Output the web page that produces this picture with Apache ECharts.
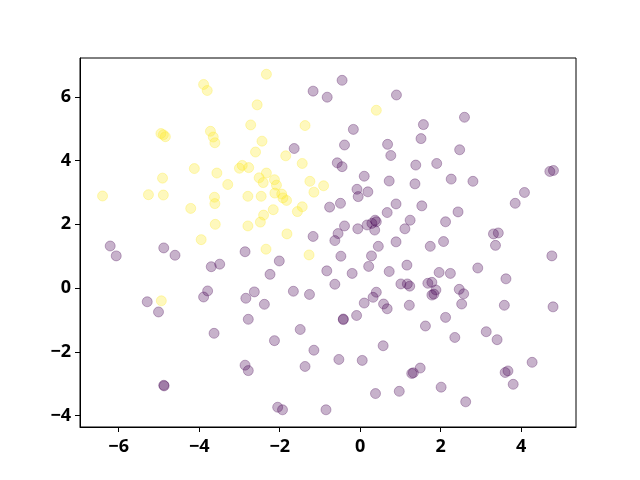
<!DOCTYPE html>
<html>
<head>
<meta charset="utf-8">
<script src="https://cdn.jsdelivr.net/npm/echarts@6/dist/echarts.min.js"></script>
<style>html,body{margin:0;padding:0;background:#fff}#c{width:640px;height:480px}</style>
</head>
<body>
<div id="c"></div>
<script>
// Class 1 (yellow) points [x, y]
const yellowPoints = [
  [-3.89,6.39],[-3.80,6.20],[-4.95,4.85],[-4.89,4.81],[-4.84,4.75],[-3.72,4.92],[-3.65,4.74],[-3.61,4.56],
  [-2.72,5.12],[-4.12,3.75],[-3.56,3.61],[-3.00,3.76],[-2.93,3.85],[-2.77,3.78],[-4.91,3.45],[-3.29,3.25],
  [-6.40,2.89],[-5.26,2.93],[-4.89,2.92],[-3.62,2.85],[-3.61,2.65],[-2.79,2.88],[-4.21,2.50],[-3.60,2.00],
  [-2.79,1.95],[-3.95,1.52],[-4.94,-0.40],[-2.33,6.71],[-2.56,5.75],[-1.37,5.10],[-2.44,4.61],[-2.60,4.27],
  [-1.85,4.15],[-1.44,3.91],[0.40,5.58],[-2.33,3.61],[-2.51,3.46],[-2.41,3.31],[-2.13,3.40],[-2.08,3.23],
  [-1.25,3.35],[-0.91,3.21],[-1.15,3.01],[-2.46,2.88],[-2.12,2.98],[-1.95,2.95],[-1.92,2.83],[-1.83,2.75],
  [-1.44,2.55],[-1.56,2.40],[-2.16,2.46],[-2.40,2.29],[-2.48,2.07],[-1.82,1.70],[-2.34,1.22],[-1.27,1.04]
];
// Class 0 (purple) points [x, y]
const purplePoints = [
  [-6.21,1.32],[-6.06,1.01],[-4.88,1.26],[-4.60,1.03],[-2.86,1.14],[-3.70,0.67],[-3.49,0.75],[-3.79,-0.09],
  [-3.89,-0.28],[-5.29,-0.43],[-5.01,-0.75],[-2.84,-0.32],[-2.78,-0.98],[-3.63,-1.42],[-2.86,-2.42],[-2.78,-2.59],
  [-4.88,-3.05],[-4.87,-3.07],
  [-0.45,6.52],[-1.17,6.18],[-0.82,5.99],[0.90,6.06],[-0.17,4.98],[-0.39,4.49],[0.68,4.51],[0.76,4.16],
  [-1.64,4.38],[-0.57,3.93],[-0.45,3.81],[0.10,3.51],[0.72,3.36],[1.38,3.86],[1.36,3.27],[-0.08,3.10],
  [0.19,3.02],[-0.05,2.87],[-0.76,2.54],[-0.49,2.66],[0.89,2.64],[0.67,2.37],[-0.39,1.95],[-0.06,1.86],
  [0.17,1.98],[0.29,2.03],[0.37,2.13],[0.40,2.08],[0.36,1.82],[-0.55,1.71],[-0.63,1.49],[-1.17,1.62],
  [1.11,1.86],[1.24,2.13],[0.89,1.45],[0.45,1.31],
  [2.59,5.36],[1.57,5.13],[1.51,4.69],[2.47,4.34],[1.90,3.91],[2.26,3.42],[2.80,3.35],[4.71,3.66],[4.80,3.69],
  [4.08,3.00],[3.85,2.66],[1.53,2.58],[2.43,2.39],[2.12,2.08],[3.31,1.70],[3.43,1.73],[3.36,1.34],[2.07,1.46],
  [1.74,1.31],
  [4.76,1.01],[2.92,0.63],[1.96,0.49],[2.24,0.46],[3.62,0.29],[1.68,0.15],[1.78,0.18],[1.88,-0.06],
  [1.78,-0.22],[1.83,-0.19],[2.46,-0.04],[2.57,-0.18],[2.52,-0.50],[3.58,-0.54],[4.79,-0.59],[2.12,-0.92],
  [1.62,-1.19],[2.35,-1.55],[3.13,-1.37],[3.40,-1.62],[4.27,-2.33],[3.60,-2.65],[3.67,-2.60],[1.49,-2.51],
  [1.28,-2.68],[1.32,-2.66],[2.01,-3.11],[3.80,-3.02],[2.62,-3.57],
  [-2.01,0.85],[-2.24,0.43],[-0.48,1.00],[0.28,1.01],[-0.83,0.54],[-0.20,0.46],[0.21,0.68],[0.72,0.52],
  [1.16,0.72],[1.01,0.13],[1.17,0.13],[1.23,0.06],[1.22,-0.54],[-0.63,0.12],[0.40,-0.13],[0.32,-0.29],
  [0.10,-0.47],[0.58,-0.50],[0.67,-0.65],[-0.09,-0.86],[-0.42,-0.97],[-0.42,-0.99],[-1.66,-0.10],[-1.26,-0.20],
  [-2.63,-0.12],[-2.38,-0.51],[-1.49,-1.30],[-2.13,-1.65],[-1.15,-1.95],[-0.53,-2.24],[0.05,-2.27],[0.57,-1.81],
  [-1.37,-2.46],[0.38,-3.31],[0.97,-3.24],[-2.05,-3.74],[-1.93,-3.82],[-0.85,-3.82]
];
const xTicks = [-6, -4, -2, 0, 2, 4];
const yTicks = [-4, -2, 0, 2, 4, 6];

const fmt = v => (v < 0 ? '\u2212' + Math.abs(v) : String(v));
const labelStyle = {fontFamily: '"Open Sans"', fontWeight: 'bold', fontSize: 18, color: '#000', formatter: fmt};
const chart = echarts.init(document.getElementById('c'), null, {renderer: 'canvas'});
const mk = (data, r, g, b) => ({
  type: 'scatter', data: data, symbol: 'circle', symbolSize: 10,
  itemStyle: {color: `rgba(${r},${g},${b},0.3)`, borderColor: `rgba(${r},${g},${b},0.3)`, borderWidth: 1, opacity: 1},
  emphasis: {disabled: true}, animation: false
});
chart.setOption({
  animation: false,
  grid: {left: 80, right: 64, top: 58, bottom: 53, show: true, borderColor: '#000', borderWidth: 1, backgroundColor: 'transparent'},
  xAxis: {
    type: 'value', min: -6.96, max: 5.36,
    axisLine: {show: true, onZero: false, lineStyle: {color: '#000', width: 1}},
    axisTick: {show: true, length: 5, lineStyle: {color: '#000'}, customValues: xTicks},
    axisLabel: Object.assign({margin: 11, customValues: xTicks}, labelStyle),
    splitLine: {show: false}
  },
  yAxis: {
    type: 'value', min: -4.36, max: 7.22,
    axisLine: {show: true, onZero: false, lineStyle: {color: '#000', width: 1}},
    axisTick: {show: true, length: 5, lineStyle: {color: '#000'}, customValues: yTicks},
    axisLabel: Object.assign({margin: 9, customValues: yTicks}, labelStyle),
    splitLine: {show: false}
  },
  series: [mk(purplePoints, 68, 1, 84), mk(yellowPoints, 253, 231, 37)]
});
</script>
</body>
</html>
